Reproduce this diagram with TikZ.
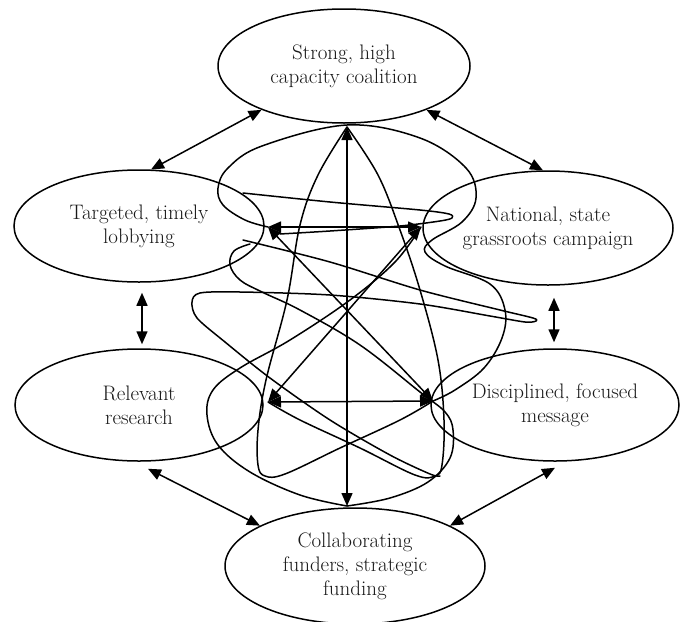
\documentclass[tikz,border=0pt]{standalone}
\usetikzlibrary{arrows.meta,shapes.geometric}
\tikzset{
  goal/.style={draw, ellipse, line width=1.5pt, inner sep=0pt, align=center,
    font=\fontsize{21}{24}\selectfont, text=black!90},
  link/.style={line width=1.5pt},
  dbl/.style={link, {Triangle[length=13pt,width=11pt]}-{Triangle[length=13pt,width=11pt]}},
  tangle/.style={line width=1.5pt, line join=round, line cap=round},
}
\begin{document}
\begin{tikzpicture}[x=1pt,y=-1pt]
\useasboundingbox (0,0) rectangle (690,621);
\fill[white] (0,0) rectangle (690,621);

% the six goals
\node[goal, minimum width=252pt, minimum height=114pt] (coal) at (344,66) {Strong, high\\capacity coalition};
\node[goal, minimum width=250pt, minimum height=112pt] (lobby) at (139,226) {Targeted, timely\\lobbying};
\node[goal, minimum width=250pt, minimum height=114pt] (grass) at (548,228) {National, state\\grassroots campaign};
\node[goal, minimum width=248pt, minimum height=112pt] (research) at (139,405) {Relevant\\research};
\node[goal, minimum width=248pt, minimum height=112pt] (message) at (555,405) {Disciplined, focused\\message};
\node[goal, minimum width=260pt, minimum height=116pt] (funding) at (355,566) {Collaborating\\funders, strategic\\funding};

% outer ring of two-way links
\draw[dbl] (lobby.78) -- (coal.208);
\draw[dbl] (coal.332) -- (grass.95);
\draw[dbl] ([xshift=3pt,yshift=-10pt]lobby.south) -- ([xshift=3pt,yshift=4pt]research.north);
\draw[dbl] ([xshift=6pt,yshift=-12pt]grass.south) -- ([xshift=-1pt,yshift=6pt]message.north);
\draw[dbl] ([xshift=9pt,yshift=-7pt]research.south) -- (funding.157);
\draw[dbl] ([yshift=-6pt]message.south) -- (funding.23);

% end points of the inner links
\coordinate (T) at (347,127);
\coordinate (B) at (347,506);
\coordinate (TL) at (268,227);
\coordinate (TR) at (421,227);
\coordinate (BL) at (268,402);
\coordinate (BR) at (433,401);

% inner straight links
\draw[dbl] (T) -- (B);
\draw[dbl] (TL) -- (TR);
\draw[dbl] (BL) -- (BR);
\draw[dbl] (TL) -- (BR);
\draw[dbl] (TR) -- (BL);

% tangled curved connectors
\draw[tangle] plot[smooth, tension=0.6] coordinates {(TL) (245,220) (223,205) (218,188) (228,168) (262,146) (347,125) (420,138) (466,168) (476,198) (462,222) (432,240) (425,252) (445,266) (490,284) (505,310) (502,338) (484,368) (455,390) (BR)};
\draw[tangle] plot[smooth, tension=0.5] coordinates {(243,193) (330,202) (420,210) (449,214) (452,218) (440,221) (400,226) (330,231) (280,234)};
\draw[tangle] plot[smooth, tension=0.5] coordinates {(243,240) (330,262) (420,290) (500,310) (533,318) (536,321) (525,322) (490,316) (420,304) (330,295) (240,292) (200,293) (192,302) (197,318) (225,342) (270,378) (330,420) (390,455) (430,474) (440,476)};
\draw[tangle] plot[smooth, tension=0.6] coordinates {(T) (318,175) (300,225) (287,300) (266,380) (258,430) (258,465) (265,476) (285,474) (340,448) (400,420) (BR)};
\draw[tangle] plot[smooth, tension=0.6] coordinates {(T) (378,175) (400,230) (420,290) (438,360) (444,420) (442,465) (435,476) (415,475) (360,448) (300,420) (BL)};
\draw[tangle] plot[smooth, tension=0.6] coordinates {(B) (300,495) (250,472) (218,445) (207,415) (213,390) (240,368) (290,340) (350,300) (395,262) (TR)};
\draw[tangle] plot[smooth, tension=0.6] coordinates {(B) (390,498) (428,482) (450,458) (453,430) (445,412) (420,392) (360,345) (300,310) (262,292) (240,280) (230,265) (234,251) (250,244)};
\end{tikzpicture}
\end{document}
